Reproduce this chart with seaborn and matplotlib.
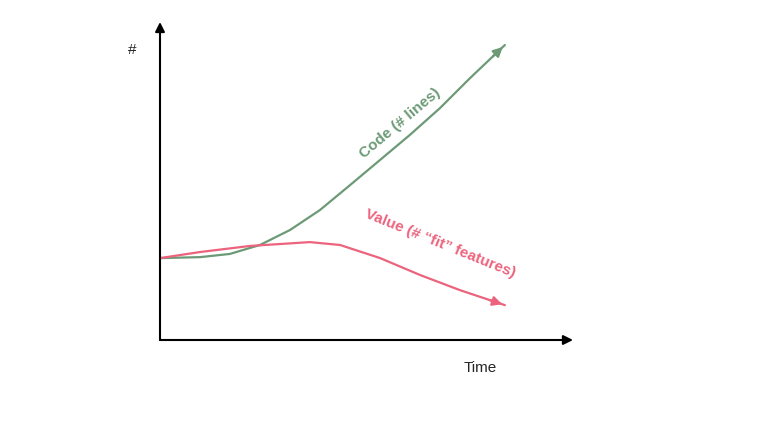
import matplotlib
matplotlib.use("Agg")
import matplotlib.pyplot as plt
import seaborn as sns
import pandas as pd

sns.set_theme(style="white")
plt.rcParams['font.family'] = ['Liberation Sans', 'DejaVu Sans']

GREEN = "#6c9a76"
PINK = "#ec637d"

code_t = [0, 0.97, 1.69, 2.42, 3.15, 3.87, 4.6, 5.33, 6.05, 6.78, 7.51, 8.35]
code_v = [2.56, 2.59, 2.69, 2.97, 3.44, 4.06, 4.84, 5.63, 6.41, 7.25, 8.19, 9.22]
value_t = [0, 0.97, 2.18, 3.63, 4.36, 5.33, 6.3, 7.26, 8.35]
value_v = [2.56, 2.75, 2.94, 3.06, 2.97, 2.56, 2.03, 1.56, 1.09]

fig = plt.figure(figsize=(7.68, 4.32), dpi=100)
ax = fig.add_axes([160/768, 92/432, 413/768, 318/432])
ax.set_xlim(0, 10)
ax.set_ylim(0, 9.94)
for s in ax.spines.values():
    s.set_visible(False)
ax.set_xticks([]); ax.set_yticks([])
ax.patch.set_alpha(0)

df_c = pd.DataFrame({"t": code_t, "v": code_v})
df_v = pd.DataFrame({"t": value_t, "v": value_v})
sns.lineplot(data=df_c, x="t", y="v", ax=ax, color=GREEN, lw=1.6, sort=False)
sns.lineplot(data=df_v, x="t", y="v", ax=ax, color=PINK, lw=1.6, sort=False)
ax.set_xlabel(""); ax.set_ylabel("")

for t, v, c in [(code_t, code_v, GREEN), (value_t, value_v, PINK)]:
    ax.annotate("", xy=(t[-1], v[-1]), xytext=(t[-2] + (t[-1]-t[-2])*0.6, v[-2] + (v[-1]-v[-2])*0.6),
                arrowprops=dict(arrowstyle="-|>", color=c, lw=1.6, mutation_scale=14))

# axes arrows
ax.annotate("", xy=(0, 9.94), xytext=(0, 0), annotation_clip=False,
            arrowprops=dict(arrowstyle="-|>", color="black", lw=1.5, mutation_scale=14, shrinkA=0, shrinkB=0))
ax.annotate("", xy=(10, 0), xytext=(0, 0), annotation_clip=False,
            arrowprops=dict(arrowstyle="-|>", color="black", lw=1.5, mutation_scale=14, shrinkA=0, shrinkB=0))

fig.text(132/768, 1 - 50/432, "#", fontsize=11, ha="center", va="center")
fig.text(480/768, 1 - 368/432, "Time", fontsize=11, ha="center", va="center")
fig.text(400/768, 1 - 123/432, "Code (# lines)", fontsize=11, fontweight="bold",
         color=GREEN, ha="center", va="center", rotation=40)
fig.text(440/768, 1 - 244/432, "Value (# \u201cfit\u201d features)", fontsize=11, fontweight="bold",
         color=PINK, ha="center", va="center", rotation=-22)

fig.savefig("out.png", dpi=100)
